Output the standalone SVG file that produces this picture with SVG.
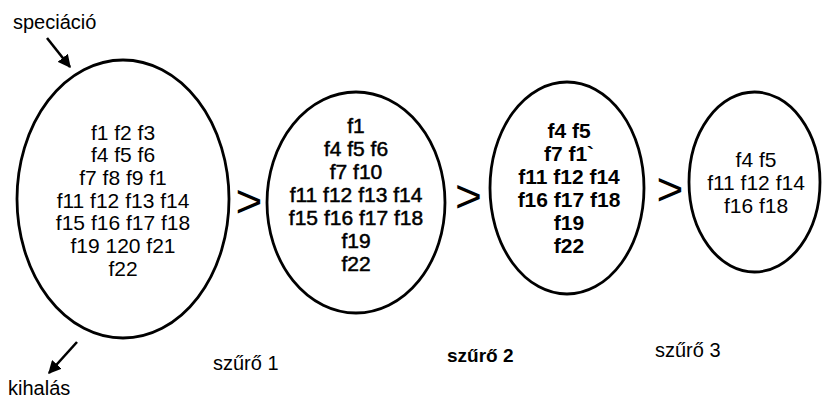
<svg xmlns="http://www.w3.org/2000/svg" width="822" height="398" viewBox="0 0 822 398">
<style>
  .shape { fill: #fff; stroke: #000; stroke-width: 2.8; }
  .t { font-family: "Liberation Sans", Arial, sans-serif; font-size: 21px; fill: #000; text-anchor: middle; }
  .semi { stroke: #000; stroke-width: 0.5; }
  .b { font-weight: bold; }
  .lbl { font-family: "Liberation Sans", Arial, sans-serif; font-size: 20px; fill: #000; }
  .gt { font-family: "Liberation Sans", Arial, sans-serif; font-size: 46px; fill: #000; text-anchor: middle; }
  .arr { stroke: #000; stroke-width: 2.6; fill: none; marker-end: url(#ah); }
</style>
<defs>
  <marker id="ah" viewBox="0 0 10 10" refX="9" refY="5" markerWidth="5" markerHeight="5" orient="auto" markerUnits="strokeWidth">
    <path d="M0,0 L10,5 L0,10 z" fill="#000"/>
  </marker>
</defs>
<rect width="822" height="398" fill="#fff"/>

<g id="node1">
  <ellipse class="shape" cx="123" cy="199" rx="106" ry="139"/>
  <text class="t" x="123" y="139.5">f1 f2 f3</text>
  <text class="t" x="123" y="162.2">f4 f5 f6</text>
  <text class="t" x="123" y="184.9">f7 f8 f9 f1</text>
  <text class="t" x="123" y="207.6">f11 f12 f13 f14</text>
  <text class="t" x="123" y="230.3">f15 f16 f17 f18</text>
  <text class="t" x="123" y="253">f19 120 f21</text>
  <text class="t" x="123" y="275.7">f22</text>
</g>

<g id="node2">
  <ellipse class="shape" cx="356" cy="202.5" rx="89" ry="110.5"/>
  <text class="t semi" x="356" y="132.5">f1</text>
  <text class="t semi" x="356" y="155.5">f4 f5 f6</text>
  <text class="t semi" x="356" y="178.5">f7 f10</text>
  <text class="t semi" x="356" y="201.5">f11 f12 f13 f14</text>
  <text class="t semi" x="356" y="224.5">f15 f16 f17 f18</text>
  <text class="t semi" x="356" y="247.5">f19</text>
  <text class="t semi" x="356" y="270.5">f22</text>
</g>

<g id="node3">
  <ellipse class="shape" cx="567" cy="188" rx="77" ry="106"/>
  <text class="t b" x="569" y="137.5">f4 f5</text>
  <text class="t b" x="569" y="160.5">f7 f1`</text>
  <text class="t b" x="569" y="183.5">f11 f12 f14</text>
  <text class="t b" x="569" y="206.5">f16 f17 f18</text>
  <text class="t b" x="569" y="229.5">f19</text>
  <text class="t b" x="569" y="252.5">f22</text>
</g>

<g id="node4">
  <ellipse class="shape" cx="754.5" cy="182" rx="65.5" ry="90"/>
  <text class="t" x="756" y="166.5">f4 f5</text>
  <text class="t" x="756" y="189.5">f11 f12 f14</text>
  <text class="t" x="756" y="212.5">f16 f18</text>
</g>

<g id="filters">
  <text class="gt" x="249" y="217">&gt;</text>
  <text class="gt" x="468.5" y="212">&gt;</text>
  <text class="gt" x="670" y="205">&gt;</text>
  <text class="lbl" x="213" y="370">szűrő 1</text>
  <text class="lbl b" x="447" y="362" style="font-size:19px">szűrő 2</text>
  <text class="lbl" x="655" y="357">szűrő 3</text>
</g>

<g id="labels">
  <text class="lbl" x="13" y="29">speciáció</text>
  <text class="lbl" x="8" y="395">kihalás</text>
</g>

<g id="connectors">
  <line class="arr" x1="47" y1="38" x2="70" y2="67"/>
  <line class="arr" x1="77" y1="342" x2="49" y2="373"/>
</g>
</svg>
